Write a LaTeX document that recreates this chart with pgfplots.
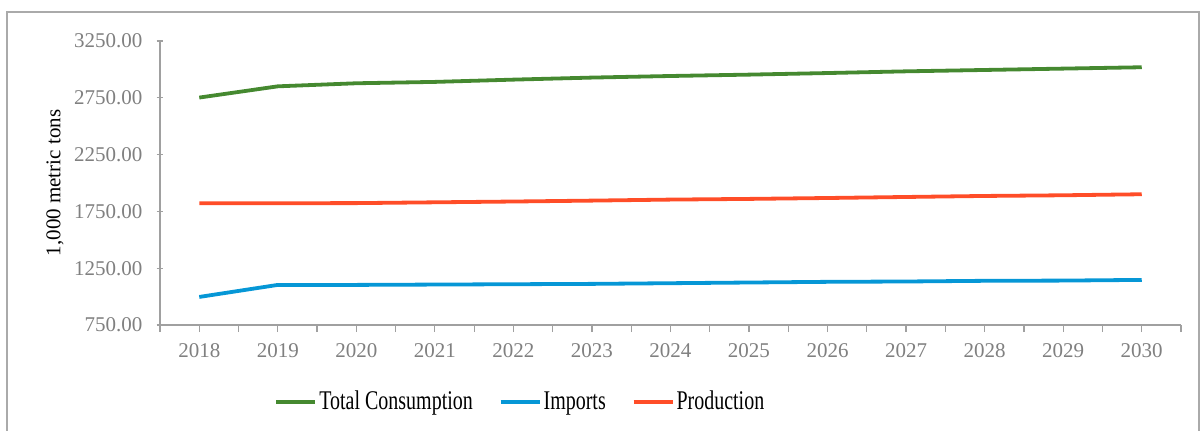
\documentclass[border=0pt]{standalone}
\usepackage{pgfplots}
\pgfplotsset{compat=1.18}
\usepackage{fontspec}
\setmainfont{Liberation Serif}
\newfontfamily\legendfont[FakeStretch=0.74]{Liberation Serif}

\definecolor{consgreen}{RGB}{69,137,48}
\definecolor{impblue}{RGB}{6,151,214}
\definecolor{prodred}{RGB}{255,77,40}
\definecolor{axisgray}{RGB}{160,160,160}
\definecolor{labelgray}{RGB}{128,128,128}
\definecolor{framegray}{RGB}{170,170,170}

\begin{document}
\begin{tikzpicture}
\useasboundingbox (0,0) rectangle (601.5pt,215pt);
\draw[framegray, line width=0.6pt] (3.5pt,-5pt) rectangle (599.5pt,209pt);
\begin{axis}[
  at={(80pt,52.5pt)}, anchor=south west,
  scale only axis, width=510.5pt, height=142pt,
  xmin=2017.5, xmax=2030.5, ymin=750, ymax=3250,
  axis x line*=bottom, axis y line*=left,
  axis line style={axisgray, line width=0.6pt},
  every tick/.style={axisgray, line width=0.6pt},
  xtick={2018,...,2030},
  minor xtick={2017.5,2018.5,...,2030.5},
  xtick align=outside,
  ytick align=center,
  major tick length=3.5pt, minor tick length=3.5pt,
  ytick={750,1250,...,3250},
  ticklabel style={font=\fontsize{10.5}{12}\selectfont, text=labelgray},
  /pgf/number format/assume math mode=true,
  x tick label style={/pgf/number format/1000 sep={}, yshift=-2pt},
  y tick label style={/pgf/number format/.cd, fixed, fixed zerofill, precision=2, 1000 sep={}, /tikz/xshift=-3.5pt},
  every axis y label/.style={at={(axis description cs:-0.1028,0.5)}, rotate=90, anchor=center},
  ylabel={1,000 metric tons},
  label style={font=\fontsize{10.5}{12}\selectfont},
  legend columns=3,
  legend style={at={(axis description cs:0.353,-0.271)}, anchor=center, draw=none,
    font=\legendfont\fontsize{13.5}{15}\selectfont,
    nodes={inner xsep=1pt},
    /tikz/every even column/.append style={column sep=12pt}},
  legend image code/.code={\draw[#1, line width=1.9pt] (0pt,0pt) -- (19.5pt,0pt);},
  legend cell align=left,
  every axis plot/.append style={line width=1.9pt, line join=round},
]
\addplot[consgreen] coordinates {
  (2018,2752) (2019,2851) (2020,2878) (2021,2890) (2022,2910) (2023,2928) (2024,2942)
  (2025,2954) (2026,2968) (2027,2983) (2028,2995) (2029,3007) (2030,3019)};
\addlegendentry{Total Consumption}
\addplot[impblue] coordinates {
  (2018,997) (2019,1103) (2020,1103) (2021,1106) (2022,1109) (2023,1112) (2024,1118)
  (2025,1124) (2026,1130) (2027,1133) (2028,1139) (2029,1141) (2030,1147)};
\addlegendentry{Imports}
\addplot[prodred] coordinates {
  (2018,1822) (2019,1822) (2020,1823) (2021,1830) (2022,1837) (2023,1845) (2024,1854)
  (2025,1860) (2026,1868) (2027,1877) (2028,1886) (2029,1892) (2030,1901)};
\addlegendentry{Production}
\end{axis}
\end{tikzpicture}
\end{document}
